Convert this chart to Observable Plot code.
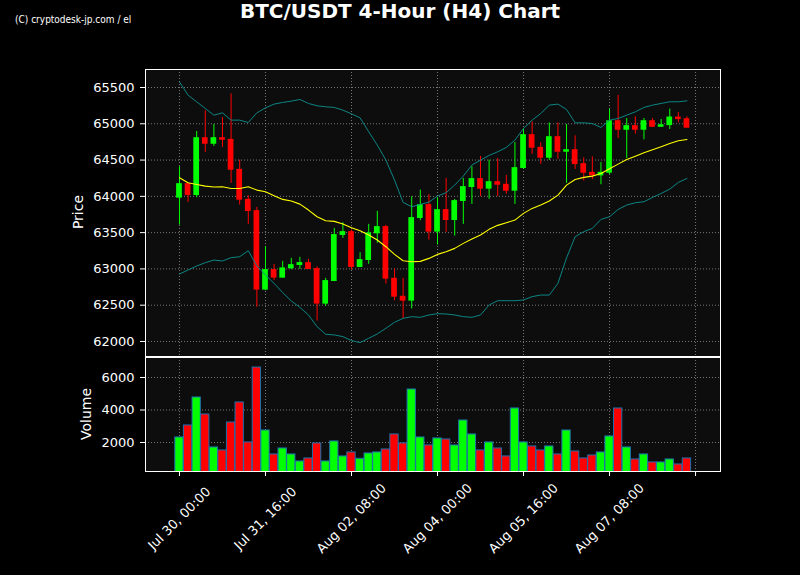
<!DOCTYPE html>
<html>
<head>
<meta charset="utf-8">
<script src="https://cdn.jsdelivr.net/npm/d3@7"></script>
<script src="https://cdn.jsdelivr.net/npm/@observablehq/plot@0.6"></script>
<style>
  html, body { margin: 0; padding: 0; background: #000; }
  #wrap { position: relative; width: 800px; height: 575px; background: #000; overflow: hidden; font-family: "DejaVu Sans", sans-serif; }
  #title { position: absolute; top: 0px; left: 0; width: 800px; text-align: center; color: #fff; font-weight: bold; font-size: 20px; line-height: 22px; }
  #wm { position: absolute; top: 14px; left: 15px; color: #fff; font-family: "Liberation Sans Narrow", "DejaVu Sans Condensed", sans-serif; font-size: 10px; line-height: 12px; }
  .ylab { position: absolute; color: #fff; font-size: 14px; transform: translate(-50%, -50%) rotate(-90deg); white-space: nowrap; }
  #pricePlot { position: absolute; left: 0; top: 59px; }
  #volPlot { position: absolute; left: 0; top: 354px; }
</style>
</head>
<body>
<div id="wrap">
  <div id="wm">(C) cryptodesk-jp.com / el</div>
  <div id="title">BTC/USDT 4-Hour (H4) Chart</div>
  <div class="ylab" style="left:78px; top:212px;">Price</div>
  <div class="ylab" style="left:86px; top:414px;">Volume</div>
  <div id="pricePlot"></div>
  <div id="volPlot"></div>
</div>
<script>
// ---- data (4-hour candles, starting Jul 30 00:00) ----
const startTime = "2024-07-30T00:00:00Z";
const stepHours = 4;

const open  = [63981,64169,64017,64802,64724,64802,64779,64366,63953,63797,
               62714,62985,62879,63008,63053,63081,62998,62521,62833,63467,
               63508,63026,63122,63490,63577,62865,62617,62562,63701,63880,
               63513,63811,63673,63935,64128,64238,64105,64196,64160,64077,
               64389,64844,64669,64531,64816,64614,64637,64444,64325,64288,
               64325,65036,64917,64968,64917,65036,64958,64981,65087,65064];
const high  = [64408,64175,64894,65179,64990,65082,65413,64499,64008,63848,
               63306,63063,63104,63145,63159,63132,63030,62870,63558,63636,
               63535,63223,63614,63793,63600,62998,62870,63994,64086,64027,
               63981,64247,63958,64247,64408,64550,64499,64522,64288,64743,
               64935,65027,64738,65013,65013,64990,64834,64531,64545,64467,
               65202,65390,65073,65096,65073,65073,65059,65202,65156,65096];
const low   = [63604,63916,63981,64605,64688,64674,64178,63880,63614,62471,
               62700,62838,62870,62990,62994,62995,62282,62484,62825,63421,
               62985,63017,63063,63352,62792,62562,62315,62448,63664,63398,
               63329,63503,63453,63614,63889,63996,63958,63996,64031,63889,
               64375,64577,64440,64495,64508,64178,64371,64210,64233,64160,
               64300,64798,64522,64857,64779,64949,64949,64922,65013,64945];
const close = [64169,64017,64802,64724,64802,64779,64366,63953,63797,62714,
               62985,62879,63008,63053,63081,62998,62521,62833,63467,63508,
               63026,63122,63490,63577,62865,62617,62562,63701,63880,63513,
               63811,63673,63935,64128,64238,64105,64196,64160,64077,64389,
               64844,64669,64531,64816,64614,64637,64444,64325,64288,64325,
               65036,64917,64968,64917,65036,64958,64981,65087,65064,64945];
const volume = [2310,3048,4770,3725,1695,1510,3232,4462,2003,6615,
                2740,1265,1633,1265,834,1018,1941,834,2064,1142,
                1388,998,1326,1388,1572,2495,1941,5262,2310,1818,
                2250,2187,1818,3355,2495,1510,2003,1633,1142,4094,
                2003,1757,1510,1757,1265,2740,1449,1018,1203,1388,
                2372,4094,1695,957,1265,773,773,957,650,1018];
// Bollinger bands (20, 2)
const bbUpper = [65578,65394,65303,65211,65119,65151,65050,65050,65018,65151,
                 65220,65271,65294,65312,65335,65280,65248,65234,65225,65188,
                 65137,65082,64890,64706,64499,64224,63916,63857,63889,63920,
                 64004,64050,64155,64279,64431,64499,64564,64614,64674,64775,
                 64935,65050,65142,65257,65271,65197,65013,65013,65004,64949,
                 65050,65073,65119,65165,65225,65257,65280,65303,65303,65316];
const bbMid   = [64256,64187,64164,64141,64128,64132,64109,64109,64132,64086,
                 64063,64008,63958,63935,63893,63811,63719,63664,63655,63618,
                 63568,63526,63467,63398,63306,63200,63113,63099,63104,63145,
                 63200,63237,63283,63352,63411,63467,63545,63600,63636,63673,
                 63765,63834,63880,63935,64017,64155,64233,64261,64279,64316,
                 64380,64444,64509,64554,64600,64642,64683,64729,64766,64784];
const bbLower = [62930,62985,63040,63086,63122,63109,63155,63168,63251,63040,
                 62916,62801,62673,62558,62471,62365,62204,62099,62090,62067,
                 62012,61985,62044,62104,62182,62264,62319,62342,62333,62365,
                 62383,62379,62365,62342,62333,62365,62503,62562,62562,62562,
                 62572,62618,62640,62640,62801,63150,63444,63513,63558,63682,
                 63719,63820,63880,63912,63926,63985,64040,64100,64192,64247];

const priceTicks = [62000,62500,63000,63500,64000,64500,65000,65500];
const volumeTicks = [2000,4000,6000];
const xTickLabels = ["Jul 30, 00:00","Jul 31, 16:00","Aug 02, 08:00","Aug 04, 00:00","Aug 05, 16:00","Aug 07, 08:00",""];
const candlesPerTick = 10;

// ---- build table ----
const H = 3600e3;
const t0 = new Date(startTime).getTime();
const rows = open.map((o, i) => ({
  t: new Date(t0 + i * stepHours * H),
  o, h: high[i], l: low[i], c: close[i], v: volume[i],
  up: bbUpper[i], mid: bbMid[i], lo: bbLower[i],
  color: close[i] >= o ? "#00ff00" : "#ff0000"
}));
const tickDates = xTickLabels.map((_, k) => new Date(t0 + k * candlesPerTick * stepHours * H));
const xDomain = [new Date(t0 - 15.8 * H), new Date(t0 + 251.6 * H)];
const bodyHalf = 1.33 * H, barHalf = 1.93 * H;

const gridStyle = {stroke: "#9a9a9a", strokeOpacity: 0.85, strokeWidth: 0.9, strokeDasharray: "1,2"};
const plotStyle = {background: "transparent", color: "#fff", fontFamily: "DejaVu Sans, sans-serif", fontSize: "13px", overflow: "visible"};

const pricePlot = Plot.plot({
  width: 800, height: 300,
  marginLeft: 145, marginRight: 80, marginTop: 10, marginBottom: 3,
  style: plotStyle,
  x: {type: "utc", domain: xDomain, axis: null, label: null},
  y: {domain: [61793, 65748], axis: null, label: null},
  marks: [
    Plot.frame({fill: "#0d0d0d", stroke: null}),
    Plot.gridX({ticks: tickDates, ...gridStyle}),
    Plot.gridY({ticks: priceTicks, ...gridStyle}),
    Plot.ruleX(rows, {x: "t", y1: "l", y2: "h", stroke: "color", strokeWidth: 1}),
    Plot.rect(rows, {x1: d => new Date(+d.t - bodyHalf), x2: d => new Date(+d.t + bodyHalf),
                     y1: d => Math.min(d.o, d.c) - 6, y2: d => Math.max(d.o, d.c) + 6, fill: "color"}),
    Plot.line(rows, {x: "t", y: "up", stroke: "#0c8585", strokeWidth: 1}),
    Plot.line(rows, {x: "t", y: "lo", stroke: "#0c8585", strokeWidth: 1}),
    Plot.line(rows, {x: "t", y: "mid", stroke: "#ffff00", strokeWidth: 1.1}),
    Plot.axisY({ticks: priceTicks, tickSize: 5, tickPadding: 6, tickFormat: d => String(d), fontSize: 13, label: null}),
    Plot.frame({stroke: "#fff", strokeWidth: 1})
  ]
});
document.getElementById("pricePlot").appendChild(pricePlot);

const volPlot = Plot.plot({
  width: 800, height: 221,
  marginLeft: 145, marginRight: 80, marginTop: 3, marginBottom: 104,
  style: plotStyle,
  x: {type: "utc", domain: xDomain, axis: null, label: null},
  y: {domain: [215, 7230], axis: null, label: null},
  marks: [
    Plot.frame({fill: "#0d0d0d", stroke: null}),
    Plot.gridX({ticks: tickDates, ...gridStyle}),
    Plot.gridY({ticks: volumeTicks, ...gridStyle}),
    Plot.rect(rows, {x1: d => new Date(+d.t - barHalf), x2: d => new Date(+d.t + barHalf),
                     y1: 0, y2: "v", fill: "color", stroke: "#1f6fae", strokeWidth: 1, clip: true}),
    Plot.axisY({ticks: volumeTicks, tickSize: 5, tickPadding: 6, tickFormat: d => String(d), fontSize: 13, label: null}),
    Plot.axisX({ticks: tickDates, tickSize: 5, tickFormat: () => "", anchor: "bottom", label: null}),
    Plot.text(tickDates.map((d, k) => ({d, label: xTickLabels[k]})).filter(e => e.label !== ""),
      {x: "d", text: "label", frameAnchor: "bottom", dy: 47, rotate: -45,
       textAnchor: "middle", lineAnchor: "middle", fontSize: 13, fill: "#fff"}),
    Plot.frame({stroke: "#fff", strokeWidth: 1})
  ]
});
document.getElementById("volPlot").appendChild(volPlot);
</script>
</body>
</html>
